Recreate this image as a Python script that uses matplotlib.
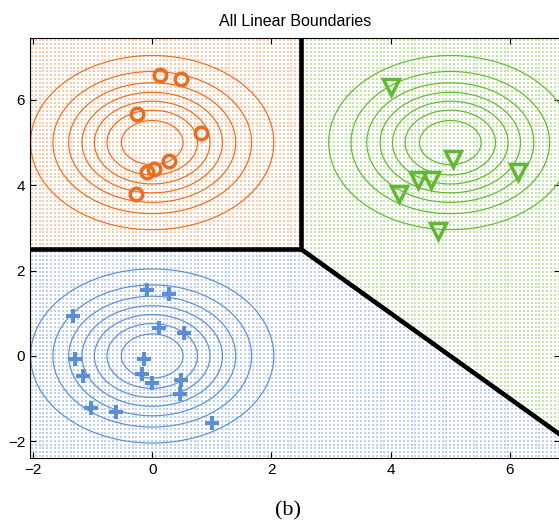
import numpy as np
import matplotlib
matplotlib.use("Agg")
import matplotlib.pyplot as plt

# class means (orange, blue, green)
means = np.array([[0.0, 5.0], [0.0, 0.0], [5.0, 5.0]])
line_colors = ["#EE6B1F", "#5B8ED6", "#62B733"]
dot_colors = ["#F9CBAB", "#BDD0EF", "#C2E5AA"]
markers = ["o", "+", "v"]

# samples
orange_x = [0.13, 0.49, -0.25, 0.81, 0.28, 0.03, -0.09, -0.27]
orange_y = [6.59, 6.48, 5.67, 5.23, 4.58, 4.39, 4.32, 3.79]
blue_x = [-0.08, 0.28, -1.33, 0.12, 0.53, -1.30, -0.14, -1.16, -0.17, 0.0, 0.48, 0.46, -1.02, -0.61, 1.01]
blue_y = [1.54, 1.46, 0.94, 0.66, 0.55, -0.06, -0.06, -0.46, -0.43, -0.64, -0.56, -0.89, -1.22, -1.32, -1.56]
green_x = [4.0, 5.05, 4.45, 4.67, 6.14, 4.14, 4.80]
green_y = [6.31, 4.62, 4.13, 4.13, 4.31, 3.80, 2.92]
samples = [(orange_x, orange_y), (blue_x, blue_y), (green_x, green_y)]

xlim = (-2.05, 6.84)
ylim = (-2.39, 7.45)

fig = plt.figure(figsize=(5.59, 5.23), dpi=100)
ax = fig.add_axes([30 / 559, 65 / 523, 530 / 559, 420 / 523])

# dotted background coloured by nearest mean
gx, gy = np.meshgrid(np.arange(xlim[0] + 0.03, xlim[1], 0.065),
                     np.arange(ylim[0] + 0.04, ylim[1], 0.092))
d = np.stack([-(gx - m[0]) ** 2 - (gy - m[1]) ** 2 for m in means])
lab = np.argmax(d, axis=0)
for k in range(3):
    sel = lab == k
    ax.scatter(gx[sel], gy[sel], s=0.6, marker="s", c=dot_colors[k],
               linewidths=0, zorder=1)

# gaussian contours, levels at k/8 of the peak
fx, fy = np.meshgrid(np.linspace(-3, 8, 500), np.linspace(-3, 8, 500))
for k in range(3):
    dens = np.exp(-((fx - means[k, 0]) ** 2 + (fy - means[k, 1]) ** 2) / 2)
    ax.contour(fx, fy, dens, levels=np.arange(1, 8) / 8,
               colors=line_colors[k], linewidths=0.85, zorder=2)

# linear decision boundaries
bx, by = np.meshgrid(np.linspace(-2.2, 7.2, 900), np.linspace(-2.6, 7.6, 900))
dd = np.stack([-(bx - m[0]) ** 2 - (by - m[1]) ** 2 for m in means])
for i, j in [(0, 1), (0, 2), (1, 2)]:
    other = 3 - i - j
    diff = np.ma.masked_where(dd[other] > np.maximum(dd[i], dd[j]), dd[i] - dd[j])
    ax.contour(bx, by, diff, levels=[0], colors="k", linewidths=3.3, zorder=3)

# samples
for k, (sx, sy) in enumerate(samples):
    if markers[k] == "o":
        ax.plot(sx, sy, "o", ms=9, mfc="none", mec=line_colors[k], mew=2.5, zorder=4)
    elif markers[k] == "v":
        ax.plot(sx, sy, "v", ms=11.5, mfc="none", mec=line_colors[k], mew=2.5, zorder=4)
    else:
        ax.plot(sx, sy, "+", ms=10.5, mec=line_colors[k], mew=2.9, zorder=4)

ax.set_xlim(xlim)
ax.set_ylim(ylim)
ax.set_xticks([-2, 0, 2, 4, 6])
ax.set_yticks([-2, 0, 2, 4, 6])
ax.tick_params(direction="in", top=True, right=True, length=4, labelsize=11)
for lbl in ax.get_xticklabels() + ax.get_yticklabels():
    lbl.set_family("Liberation Sans")
for s in ax.spines.values():
    s.set_linewidth(0.8)
ax.set_title("All Linear Boundaries", fontsize=11.5, family="Liberation Sans", pad=9)
fig.text(288 / 559, 1 - 511 / 523, "(b)", ha="center", va="center",
         fontsize=16, family="Liberation Serif")

fig.savefig("out.png", dpi=100)
